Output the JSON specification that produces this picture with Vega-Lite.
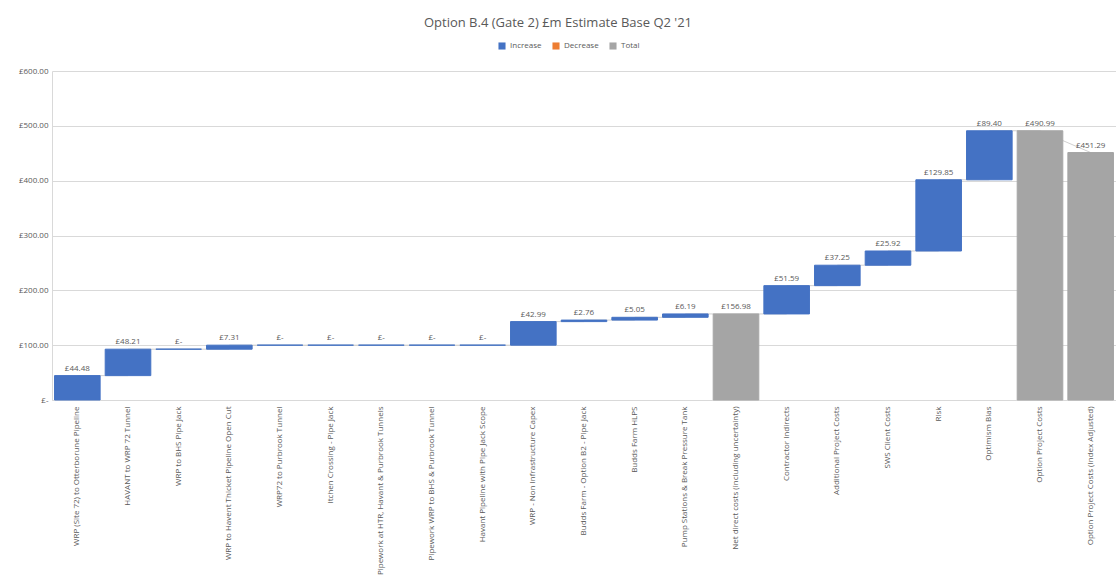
{
  "$schema": "https://vega.github.io/schema/vega-lite/v6.json",
  "width": 1064,
  "height": 329,
  "autosize": {"type": "none"},
  "padding": {"left": 52, "top": 71, "right": 0, "bottom": 181},
  "background": "white",
  "title": {
    "text": "Option B.4 (Gate 2) £m Estimate Base Q2 '21",
    "font": "Open Sans",
    "fontSize": 13,
    "fontWeight": "normal",
    "color": "#595959",
    "anchor": "middle",
    "dx": -26,
    "offset": 12
  },
  "data": {
    "values": [
      {"cat": "WRP (Site 72) to Otterborune Pipeline", "next": "HAVANT to WRP 72 Tunnel", "start": 0, "end": 44.48, "nextLevel": 44.48, "type": "Increase", "label": "£44.48"},
      {"cat": "HAVANT to WRP 72 Tunnel", "next": "WRP to BHS Pipe Jack", "start": 44.48, "end": 92.69, "nextLevel": 92.69, "type": "Increase", "label": "£48.21"},
      {"cat": "WRP to BHS Pipe Jack", "next": "WRP to Havent Thicket Pipeline Open Cut", "start": 92.69, "end": 92.69, "nextLevel": 92.69, "type": "Increase", "label": "£-"},
      {"cat": "WRP to Havent Thicket Pipeline Open Cut", "next": "WRP72 to Purbrook Tunnel", "start": 92.69, "end": 100.0, "nextLevel": 100.0, "type": "Increase", "label": "£7.31"},
      {"cat": "WRP72 to Purbrook Tunnel", "next": "Itchen Crossing - Pipe Jack", "start": 100.0, "end": 100.0, "nextLevel": 100.0, "type": "Increase", "label": "£-"},
      {"cat": "Itchen Crossing - Pipe Jack", "next": "Pipework at HTR, Havant & Purbrook Tunnels", "start": 100.0, "end": 100.0, "nextLevel": 100.0, "type": "Increase", "label": "£-"},
      {"cat": "Pipework at HTR, Havant & Purbrook Tunnels", "next": "Pipework WRP to BHS & Purbrook Tunnel", "start": 100.0, "end": 100.0, "nextLevel": 100.0, "type": "Increase", "label": "£-"},
      {"cat": "Pipework WRP to BHS & Purbrook Tunnel", "next": "Havant Pipeline with Pipe Jack Scope", "start": 100.0, "end": 100.0, "nextLevel": 100.0, "type": "Increase", "label": "£-"},
      {"cat": "Havant Pipeline with Pipe Jack Scope", "next": "WRP - Non Infrastructure Capex", "start": 100.0, "end": 100.0, "nextLevel": 100.0, "type": "Increase", "label": "£-"},
      {"cat": "WRP - Non Infrastructure Capex", "next": "Budds Farm - Option B2 - Pipe Jack", "start": 100.0, "end": 142.99, "nextLevel": 142.99, "type": "Increase", "label": "£42.99"},
      {"cat": "Budds Farm - Option B2 - Pipe Jack", "next": "Budds Farm HLPS", "start": 142.99, "end": 145.75, "nextLevel": 145.75, "type": "Increase", "label": "£2.76"},
      {"cat": "Budds Farm HLPS", "next": "Pump Stations & Break Pressure Tank", "start": 145.75, "end": 150.8, "nextLevel": 150.8, "type": "Increase", "label": "£5.05"},
      {"cat": "Pump Stations & Break Pressure Tank", "next": "Net direct costs (including uncertainty)", "start": 150.8, "end": 156.98, "nextLevel": 156.98, "type": "Increase", "label": "£6.19"},
      {"cat": "Net direct costs (including uncertainty)", "next": "Contractor Indirects", "start": 0, "end": 156.98, "nextLevel": 156.98, "type": "Total", "label": "£156.98"},
      {"cat": "Contractor Indirects", "next": "Additional Project Costs", "start": 156.98, "end": 208.57, "nextLevel": 208.57, "type": "Increase", "label": "£51.59"},
      {"cat": "Additional Project Costs", "next": "SWS Client Costs", "start": 208.57, "end": 245.82, "nextLevel": 245.82, "type": "Increase", "label": "£37.25"},
      {"cat": "SWS Client Costs", "next": "Risk", "start": 245.82, "end": 271.74, "nextLevel": 271.74, "type": "Increase", "label": "£25.92"},
      {"cat": "Risk", "next": "Optimism Bias", "start": 271.74, "end": 401.59, "nextLevel": 401.59, "type": "Increase", "label": "£129.85"},
      {"cat": "Optimism Bias", "next": "Option Project Costs", "start": 401.59, "end": 490.99, "nextLevel": 490.99, "type": "Increase", "label": "£89.40"},
      {"cat": "Option Project Costs", "next": "Option Project Costs (Index Adjusted)", "start": 0, "end": 490.99, "nextLevel": 451.29, "type": "Total", "label": "£490.99"},
      {"cat": "Option Project Costs (Index Adjusted)", "next": null, "start": 0, "end": 451.29, "nextLevel": null, "type": "Total", "label": "£451.29"}
    ]
  },
  "encoding": {
    "x": {
      "field": "cat",
      "type": "nominal",
      "sort": null,
      "scale": {"paddingInner": 0.1, "paddingOuter": 0.05},
      "axis": {
        "title": null,
        "labelAngle": -90,
        "labelFont": "Open Sans",
        "labelFontSize": 8,
        "labelColor": "#595959",
        "labelLimit": 200,
        "labelPadding": 6,
        "ticks": false,
        "domainColor": "#D9D9D9",
        "grid": false
      }
    }
  },
  "layer": [
    {
      "transform": [{"filter": "datum.next != null"}],
      "mark": {"type": "rule", "color": "#D0D0D0", "strokeWidth": 1},
      "encoding": {
        "x2": {"field": "next"},
        "y": {"field": "end", "type": "quantitative"},
        "y2": {"field": "nextLevel"}
      }
    },
    {
      "mark": {"type": "bar", "strokeWidth": 1},
      "encoding": {
        "y": {
          "field": "start",
          "type": "quantitative",
          "scale": {"domain": [0, 600]},
          "axis": {
            "title": null,
            "tickCount": 6,
            "labelExpr": "datum.value == 0 ? '£-' : '£' + format(datum.value, ',.2f')",
            "labelFont": "Open Sans",
            "labelFontSize": 8,
            "labelColor": "#595959",
            "labelPadding": 4,
            "ticks": false,
            "domainColor": "#D9D9D9",
            "gridColor": "#D9D9D9"
          }
        },
        "y2": {"field": "end"},
        "color": {
          "field": "type",
          "type": "nominal",
          "scale": {"domain": ["Increase", "Decrease", "Total"], "range": ["#4472C4", "#ED7D31", "#A5A5A5"]},
          "legend": {
            "title": null,
            "orient": "none",
            "legendX": 446,
            "legendY": -29,
            "direction": "horizontal",
            "symbolType": "square",
            "symbolSize": 50,
            "symbolStrokeWidth": 0,
            "labelFont": "Open Sans",
            "labelFontSize": 8,
            "labelColor": "#595959",
            "columnPadding": 10,
            "labelOffset": 4
          }
        },
        "stroke": {
          "field": "type",
          "type": "nominal",
          "scale": {"domain": ["Increase", "Decrease", "Total"], "range": ["#4472C4", "#ED7D31", "#A5A5A5"]},
          "legend": null
        }
      }
    },
    {
      "mark": {"type": "text", "baseline": "bottom", "dy": -3, "font": "Open Sans", "fontSize": 8, "color": "#595959"},
      "encoding": {
        "y": {"field": "end", "type": "quantitative"},
        "text": {"field": "label"}
      }
    }
  ],
  "config": {
    "view": {"stroke": null}
  }
}
